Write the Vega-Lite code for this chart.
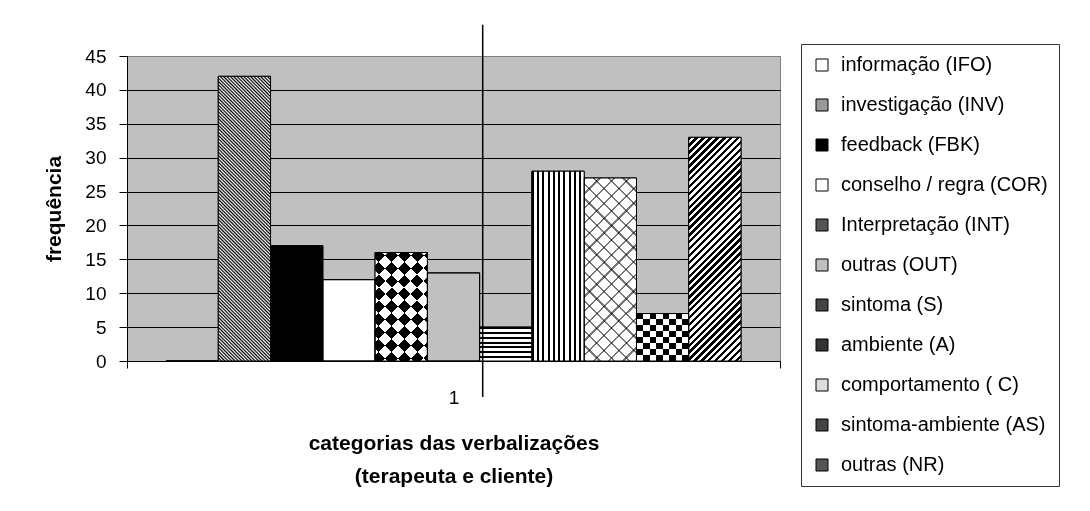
{
"$schema":"https://vega.github.io/schema/vega-lite/v6.json",
"width":653,"height":305,
"autosize":{"type":"none"},
"padding":{"left":127,"top":56,"right":310,"bottom":150},
"background":"#ffffff",
"config":{"font":"Liberation Sans","view":{"fill":"#c0c0c0","stroke":"#808080","strokeWidth":1},
"axis":{"labelColor":"#000","titleColor":"#000","domainColor":"#000","tickColor":"#000","labelFont":"Liberation Sans","titleFont":"Liberation Sans"}},
"data":{"values":[
{"grupo":"1","codigo":"IFO","categoria":"informação (IFO)","frequencia":0},
{"grupo":"1","codigo":"INV","categoria":"investigação (INV)","frequencia":42},
{"grupo":"1","codigo":"FBK","categoria":"feedback (FBK)","frequencia":17},
{"grupo":"1","codigo":"COR","categoria":"conselho / regra (COR)","frequencia":12},
{"grupo":"1","codigo":"INT","categoria":"Interpretação (INT)","frequencia":16},
{"grupo":"1","codigo":"OUT","categoria":"outras (OUT)","frequencia":13},
{"grupo":"1","codigo":"S","categoria":"sintoma (S)","frequencia":5},
{"grupo":"1","codigo":"A","categoria":"ambiente (A)","frequencia":28},
{"grupo":"1","codigo":"C","categoria":"comportamento ( C)","frequencia":27},
{"grupo":"1","codigo":"AS","categoria":"sintoma-ambiente (AS)","frequencia":7},
{"grupo":"1","codigo":"NR","categoria":"outras (NR)","frequencia":33}
]},
"encoding":{
"x":{"field":"grupo","type":"nominal","scale":{"paddingInner":0,"paddingOuter":0},
"axis":{"title":["categorias das verbalizações","(terapeuta e cliente)"],"titleFontSize":21,"titleFontWeight":"bold","titleLineHeight":33,"titlePadding":25,"labelAngle":0,"labelFontSize":19,"labelPadding":20,"tickSize":7,"tickBand":"extent","grid":false}},
"y":{"field":"frequencia","type":"quantitative","scale":{"domain":[0,45],"nice":false},
"axis":{"values":[0,5,10,15,20,25,30,35,40,45],"grid":true,"gridColor":{"condition":{"test":"datum.value === 45","value":"#808080"},"value":"#000"},"gridOpacity":1,"tickSize":8,"labelPadding":13,"labelFontSize":19,"title":"frequência","titleFontSize":21,"titleFontWeight":"bold","titlePadding":20}}
},
"layer":[
{"encoding":{"xOffset":{"field":"categoria","type":"nominal","scale":{"domain":["informação (IFO)","investigação (INV)","feedback (FBK)","conselho / regra (COR)","Interpretação (INT)","outras (OUT)","sintoma (S)","ambiente (A)","comportamento ( C)","sintoma-ambiente (AS)","outras (NR)"],"paddingInner":0,"paddingOuter":0.746}}},
"layer":[
{"mark":{"type":"bar","stroke":"#000","strokeWidth":1},
"encoding":{"color":{"field":"categoria","type":"nominal",
"scale":{"domain":["informação (IFO)","investigação (INV)","feedback (FBK)","conselho / regra (COR)","Interpretação (INT)","outras (OUT)","sintoma (S)","ambiente (A)","comportamento ( C)","sintoma-ambiente (AS)","outras (NR)"],
"range":["#ffffff","#999999","#000000","#ffffff","#555555","#c0c0c0","#444444","#333333","#dddddd","#444444","#555555"]},
"legend":{"title":null,"orient":"none","legendX":674,"legendY":-12,"direction":"vertical","symbolType":"square","symbolSize":144,"symbolStrokeColor":"#000","symbolStrokeWidth":1,"labelFontSize":20,"labelLimit":400,"labelColor":"#000","rowPadding":20,"padding":11,"strokeColor":"#333","fillColor":"#fff","labelOffset":9}}}},
{"transform":[{"filter":{"field":"codigo","equal":"INV"}}],
"mark":{"type":"bar","fill":{"gradient":"linear","x1":0,"y1":1,"x2":0.2103,"y2":-0.145,"stops":[
{"offset":0,"color":"#000"},{"offset":0.005,"color":"#fff"},{"offset":0.01,"color":"#000"},{"offset":0.015,"color":"#fff"},{"offset":0.02,"color":"#000"},{"offset":0.025,"color":"#fff"},{"offset":0.03,"color":"#000"},{"offset":0.035,"color":"#fff"},{"offset":0.04,"color":"#000"},{"offset":0.045,"color":"#fff"},
{"offset":0.05,"color":"#000"},{"offset":0.055,"color":"#fff"},{"offset":0.06,"color":"#000"},{"offset":0.065,"color":"#fff"},{"offset":0.07,"color":"#000"},{"offset":0.075,"color":"#fff"},{"offset":0.08,"color":"#000"},{"offset":0.085,"color":"#fff"},{"offset":0.09,"color":"#000"},{"offset":0.095,"color":"#fff"},
{"offset":0.1,"color":"#000"},{"offset":0.105,"color":"#fff"},{"offset":0.11,"color":"#000"},{"offset":0.115,"color":"#fff"},{"offset":0.12,"color":"#000"},{"offset":0.125,"color":"#fff"},{"offset":0.13,"color":"#000"},{"offset":0.135,"color":"#fff"},{"offset":0.14,"color":"#000"},{"offset":0.145,"color":"#fff"},
{"offset":0.15,"color":"#000"},{"offset":0.155,"color":"#fff"},{"offset":0.16,"color":"#000"},{"offset":0.165,"color":"#fff"},{"offset":0.17,"color":"#000"},{"offset":0.175,"color":"#fff"},{"offset":0.18,"color":"#000"},{"offset":0.185,"color":"#fff"},{"offset":0.19,"color":"#000"},{"offset":0.195,"color":"#fff"},
{"offset":0.2,"color":"#000"},{"offset":0.205,"color":"#fff"},{"offset":0.21,"color":"#000"},{"offset":0.215,"color":"#fff"},{"offset":0.22,"color":"#000"},{"offset":0.225,"color":"#fff"},{"offset":0.23,"color":"#000"},{"offset":0.235,"color":"#fff"},{"offset":0.24,"color":"#000"},{"offset":0.245,"color":"#fff"},
{"offset":0.25,"color":"#000"},{"offset":0.255,"color":"#fff"},{"offset":0.26,"color":"#000"},{"offset":0.265,"color":"#fff"},{"offset":0.27,"color":"#000"},{"offset":0.275,"color":"#fff"},{"offset":0.28,"color":"#000"},{"offset":0.285,"color":"#fff"},{"offset":0.29,"color":"#000"},{"offset":0.295,"color":"#fff"},
{"offset":0.3,"color":"#000"},{"offset":0.305,"color":"#fff"},{"offset":0.31,"color":"#000"},{"offset":0.315,"color":"#fff"},{"offset":0.32,"color":"#000"},{"offset":0.325,"color":"#fff"},{"offset":0.33,"color":"#000"},{"offset":0.335,"color":"#fff"},{"offset":0.34,"color":"#000"},{"offset":0.345,"color":"#fff"},
{"offset":0.35,"color":"#000"},{"offset":0.355,"color":"#fff"},{"offset":0.36,"color":"#000"},{"offset":0.365,"color":"#fff"},{"offset":0.37,"color":"#000"},{"offset":0.375,"color":"#fff"},{"offset":0.38,"color":"#000"},{"offset":0.385,"color":"#fff"},{"offset":0.39,"color":"#000"},{"offset":0.395,"color":"#fff"},
{"offset":0.4,"color":"#000"},{"offset":0.405,"color":"#fff"},{"offset":0.41,"color":"#000"},{"offset":0.415,"color":"#fff"},{"offset":0.42,"color":"#000"},{"offset":0.425,"color":"#fff"},{"offset":0.43,"color":"#000"},{"offset":0.435,"color":"#fff"},{"offset":0.44,"color":"#000"},{"offset":0.445,"color":"#fff"},
{"offset":0.45,"color":"#000"},{"offset":0.455,"color":"#fff"},{"offset":0.46,"color":"#000"},{"offset":0.465,"color":"#fff"},{"offset":0.47,"color":"#000"},{"offset":0.475,"color":"#fff"},{"offset":0.48,"color":"#000"},{"offset":0.485,"color":"#fff"},{"offset":0.49,"color":"#000"},{"offset":0.495,"color":"#fff"},
{"offset":0.5,"color":"#000"},{"offset":0.505,"color":"#fff"},{"offset":0.51,"color":"#000"},{"offset":0.515,"color":"#fff"},{"offset":0.52,"color":"#000"},{"offset":0.525,"color":"#fff"},{"offset":0.53,"color":"#000"},{"offset":0.535,"color":"#fff"},{"offset":0.54,"color":"#000"},{"offset":0.545,"color":"#fff"},
{"offset":0.55,"color":"#000"},{"offset":0.555,"color":"#fff"},{"offset":0.56,"color":"#000"},{"offset":0.565,"color":"#fff"},{"offset":0.57,"color":"#000"},{"offset":0.575,"color":"#fff"},{"offset":0.58,"color":"#000"},{"offset":0.585,"color":"#fff"},{"offset":0.59,"color":"#000"},{"offset":0.595,"color":"#fff"},
{"offset":0.6,"color":"#000"},{"offset":0.605,"color":"#fff"},{"offset":0.61,"color":"#000"},{"offset":0.615,"color":"#fff"},{"offset":0.62,"color":"#000"},{"offset":0.625,"color":"#fff"},{"offset":0.63,"color":"#000"},{"offset":0.635,"color":"#fff"},{"offset":0.64,"color":"#000"},{"offset":0.645,"color":"#fff"},
{"offset":0.65,"color":"#000"},{"offset":0.655,"color":"#fff"},{"offset":0.66,"color":"#000"},{"offset":0.665,"color":"#fff"},{"offset":0.67,"color":"#000"},{"offset":0.675,"color":"#fff"},{"offset":0.68,"color":"#000"},{"offset":0.685,"color":"#fff"},{"offset":0.69,"color":"#000"},{"offset":0.695,"color":"#fff"},
{"offset":0.7,"color":"#000"},{"offset":0.705,"color":"#fff"},{"offset":0.71,"color":"#000"},{"offset":0.715,"color":"#fff"},{"offset":0.72,"color":"#000"},{"offset":0.725,"color":"#fff"},{"offset":0.73,"color":"#000"},{"offset":0.735,"color":"#fff"},{"offset":0.74,"color":"#000"},{"offset":0.745,"color":"#fff"},
{"offset":0.75,"color":"#000"},{"offset":0.755,"color":"#fff"},{"offset":0.76,"color":"#000"},{"offset":0.765,"color":"#fff"},{"offset":0.77,"color":"#000"},{"offset":0.775,"color":"#fff"},{"offset":0.78,"color":"#000"},{"offset":0.785,"color":"#fff"},{"offset":0.79,"color":"#000"},{"offset":0.795,"color":"#fff"},
{"offset":0.8,"color":"#000"},{"offset":0.805,"color":"#fff"},{"offset":0.81,"color":"#000"},{"offset":0.815,"color":"#fff"},{"offset":0.82,"color":"#000"},{"offset":0.825,"color":"#fff"},{"offset":0.83,"color":"#000"},{"offset":0.835,"color":"#fff"},{"offset":0.84,"color":"#000"},{"offset":0.845,"color":"#fff"},
{"offset":0.85,"color":"#000"},{"offset":0.855,"color":"#fff"},{"offset":0.86,"color":"#000"},{"offset":0.865,"color":"#fff"},{"offset":0.87,"color":"#000"},{"offset":0.875,"color":"#fff"},{"offset":0.88,"color":"#000"},{"offset":0.885,"color":"#fff"},{"offset":0.89,"color":"#000"},{"offset":0.895,"color":"#fff"},
{"offset":0.9,"color":"#000"},{"offset":0.905,"color":"#fff"},{"offset":0.91,"color":"#000"},{"offset":0.915,"color":"#fff"},{"offset":0.92,"color":"#000"},{"offset":0.925,"color":"#fff"},{"offset":0.93,"color":"#000"},{"offset":0.935,"color":"#fff"},{"offset":0.94,"color":"#000"},{"offset":0.945,"color":"#fff"},
{"offset":0.95,"color":"#000"},{"offset":0.955,"color":"#fff"},{"offset":0.96,"color":"#000"},{"offset":0.965,"color":"#fff"},{"offset":0.97,"color":"#000"},{"offset":0.975,"color":"#fff"},{"offset":0.98,"color":"#000"},{"offset":0.985,"color":"#fff"},{"offset":0.99,"color":"#000"},{"offset":0.995,"color":"#fff"},
{"offset":1,"color":"#000"}]}}},
{"transform":[{"filter":{"field":"codigo","equal":"NR"}}],
"mark":{"type":"bar","fill":{"gradient":"linear","x1":0,"y1":0,"x2":0.2734,"y2":1.1698,"stops":[
{"offset":0,"color":"#000"},{"offset":0.0125,"color":"#000"},{"offset":0.0125,"color":"#fff"},{"offset":0.025,"color":"#fff"},
{"offset":0.025,"color":"#000"},{"offset":0.0375,"color":"#000"},{"offset":0.0375,"color":"#fff"},{"offset":0.05,"color":"#fff"},
{"offset":0.05,"color":"#000"},{"offset":0.0625,"color":"#000"},{"offset":0.0625,"color":"#fff"},{"offset":0.075,"color":"#fff"},
{"offset":0.075,"color":"#000"},{"offset":0.0875,"color":"#000"},{"offset":0.0875,"color":"#fff"},{"offset":0.1,"color":"#fff"},
{"offset":0.1,"color":"#000"},{"offset":0.1125,"color":"#000"},{"offset":0.1125,"color":"#fff"},{"offset":0.125,"color":"#fff"},
{"offset":0.125,"color":"#000"},{"offset":0.1375,"color":"#000"},{"offset":0.1375,"color":"#fff"},{"offset":0.15,"color":"#fff"},
{"offset":0.15,"color":"#000"},{"offset":0.1625,"color":"#000"},{"offset":0.1625,"color":"#fff"},{"offset":0.175,"color":"#fff"},
{"offset":0.175,"color":"#000"},{"offset":0.1875,"color":"#000"},{"offset":0.1875,"color":"#fff"},{"offset":0.2,"color":"#fff"},
{"offset":0.2,"color":"#000"},{"offset":0.2125,"color":"#000"},{"offset":0.2125,"color":"#fff"},{"offset":0.225,"color":"#fff"},
{"offset":0.225,"color":"#000"},{"offset":0.2375,"color":"#000"},{"offset":0.2375,"color":"#fff"},{"offset":0.25,"color":"#fff"},
{"offset":0.25,"color":"#000"},{"offset":0.2625,"color":"#000"},{"offset":0.2625,"color":"#fff"},{"offset":0.275,"color":"#fff"},
{"offset":0.275,"color":"#000"},{"offset":0.2875,"color":"#000"},{"offset":0.2875,"color":"#fff"},{"offset":0.3,"color":"#fff"},
{"offset":0.3,"color":"#000"},{"offset":0.3125,"color":"#000"},{"offset":0.3125,"color":"#fff"},{"offset":0.325,"color":"#fff"},
{"offset":0.325,"color":"#000"},{"offset":0.3375,"color":"#000"},{"offset":0.3375,"color":"#fff"},{"offset":0.35,"color":"#fff"},
{"offset":0.35,"color":"#000"},{"offset":0.3625,"color":"#000"},{"offset":0.3625,"color":"#fff"},{"offset":0.375,"color":"#fff"},
{"offset":0.375,"color":"#000"},{"offset":0.3875,"color":"#000"},{"offset":0.3875,"color":"#fff"},{"offset":0.4,"color":"#fff"},
{"offset":0.4,"color":"#000"},{"offset":0.4125,"color":"#000"},{"offset":0.4125,"color":"#fff"},{"offset":0.425,"color":"#fff"},
{"offset":0.425,"color":"#000"},{"offset":0.4375,"color":"#000"},{"offset":0.4375,"color":"#fff"},{"offset":0.45,"color":"#fff"},
{"offset":0.45,"color":"#000"},{"offset":0.4625,"color":"#000"},{"offset":0.4625,"color":"#fff"},{"offset":0.475,"color":"#fff"},
{"offset":0.475,"color":"#000"},{"offset":0.4875,"color":"#000"},{"offset":0.4875,"color":"#fff"},{"offset":0.5,"color":"#fff"},
{"offset":0.5,"color":"#000"},{"offset":0.5125,"color":"#000"},{"offset":0.5125,"color":"#fff"},{"offset":0.525,"color":"#fff"},
{"offset":0.525,"color":"#000"},{"offset":0.5375,"color":"#000"},{"offset":0.5375,"color":"#fff"},{"offset":0.55,"color":"#fff"},
{"offset":0.55,"color":"#000"},{"offset":0.5625,"color":"#000"},{"offset":0.5625,"color":"#fff"},{"offset":0.575,"color":"#fff"},
{"offset":0.575,"color":"#000"},{"offset":0.5875,"color":"#000"},{"offset":0.5875,"color":"#fff"},{"offset":0.6,"color":"#fff"},
{"offset":0.6,"color":"#000"},{"offset":0.6125,"color":"#000"},{"offset":0.6125,"color":"#fff"},{"offset":0.625,"color":"#fff"},
{"offset":0.625,"color":"#000"},{"offset":0.6375,"color":"#000"},{"offset":0.6375,"color":"#fff"},{"offset":0.65,"color":"#fff"},
{"offset":0.65,"color":"#000"},{"offset":0.6625,"color":"#000"},{"offset":0.6625,"color":"#fff"},{"offset":0.675,"color":"#fff"},
{"offset":0.675,"color":"#000"},{"offset":0.6875,"color":"#000"},{"offset":0.6875,"color":"#fff"},{"offset":0.7,"color":"#fff"},
{"offset":0.7,"color":"#000"},{"offset":0.7125,"color":"#000"},{"offset":0.7125,"color":"#fff"},{"offset":0.725,"color":"#fff"},
{"offset":0.725,"color":"#000"},{"offset":0.7375,"color":"#000"},{"offset":0.7375,"color":"#fff"},{"offset":0.75,"color":"#fff"},
{"offset":0.75,"color":"#000"},{"offset":0.7625,"color":"#000"},{"offset":0.7625,"color":"#fff"},{"offset":0.775,"color":"#fff"},
{"offset":0.775,"color":"#000"},{"offset":0.7875,"color":"#000"},{"offset":0.7875,"color":"#fff"},{"offset":0.8,"color":"#fff"},
{"offset":0.8,"color":"#000"},{"offset":0.8125,"color":"#000"},{"offset":0.8125,"color":"#fff"},{"offset":0.825,"color":"#fff"},
{"offset":0.825,"color":"#000"},{"offset":0.8375,"color":"#000"},{"offset":0.8375,"color":"#fff"},{"offset":0.85,"color":"#fff"},
{"offset":0.85,"color":"#000"},{"offset":0.8625,"color":"#000"},{"offset":0.8625,"color":"#fff"},{"offset":0.875,"color":"#fff"},
{"offset":0.875,"color":"#000"},{"offset":0.8875,"color":"#000"},{"offset":0.8875,"color":"#fff"},{"offset":0.9,"color":"#fff"},
{"offset":0.9,"color":"#000"},{"offset":0.9125,"color":"#000"},{"offset":0.9125,"color":"#fff"},{"offset":0.925,"color":"#fff"},
{"offset":0.925,"color":"#000"},{"offset":0.9375,"color":"#000"},{"offset":0.9375,"color":"#fff"},{"offset":0.95,"color":"#fff"},
{"offset":0.95,"color":"#000"},{"offset":0.9625,"color":"#000"},{"offset":0.9625,"color":"#fff"},{"offset":0.975,"color":"#fff"},
{"offset":0.975,"color":"#000"},{"offset":0.9875,"color":"#000"},{"offset":0.9875,"color":"#fff"},{"offset":1,"color":"#fff"}]}}},
{"transform":[{"filter":{"field":"codigo","equal":"INT"}}],
"mark":{"type":"bar","fill":{"gradient":"linear","x1":0,"y1":0,"x2":0.5797,"y2":1.2026,"stops":[
{"offset":0,"color":"#000"},{"offset":0.08,"color":"#000"},{"offset":0.08,"color":"#fff"},{"offset":0.16,"color":"#fff"},
{"offset":0.16,"color":"#000"},{"offset":0.24,"color":"#000"},{"offset":0.24,"color":"#fff"},{"offset":0.32,"color":"#fff"},
{"offset":0.32,"color":"#000"},{"offset":0.4,"color":"#000"},{"offset":0.4,"color":"#fff"},{"offset":0.48,"color":"#fff"},
{"offset":0.48,"color":"#000"},{"offset":0.56,"color":"#000"},{"offset":0.56,"color":"#fff"},{"offset":0.64,"color":"#fff"},
{"offset":0.64,"color":"#000"},{"offset":0.72,"color":"#000"},{"offset":0.72,"color":"#fff"},{"offset":0.8,"color":"#fff"},
{"offset":0.8,"color":"#000"},{"offset":0.88,"color":"#000"},{"offset":0.88,"color":"#fff"},{"offset":0.96,"color":"#fff"},
{"offset":0.96,"color":"#000"},{"offset":1,"color":"#000"}]}}},
{"transform":[{"filter":{"field":"codigo","equal":"INT"}}],
"mark":{"type":"bar","blend":"difference","fill":{"gradient":"linear","x1":0,"y1":1,"x2":0.5797,"y2":-0.2026,"stops":[
{"offset":0,"color":"#000"},{"offset":0.08,"color":"#000"},{"offset":0.08,"color":"#fff"},{"offset":0.16,"color":"#fff"},
{"offset":0.16,"color":"#000"},{"offset":0.24,"color":"#000"},{"offset":0.24,"color":"#fff"},{"offset":0.32,"color":"#fff"},
{"offset":0.32,"color":"#000"},{"offset":0.4,"color":"#000"},{"offset":0.4,"color":"#fff"},{"offset":0.48,"color":"#fff"},
{"offset":0.48,"color":"#000"},{"offset":0.56,"color":"#000"},{"offset":0.56,"color":"#fff"},{"offset":0.64,"color":"#fff"},
{"offset":0.64,"color":"#000"},{"offset":0.72,"color":"#000"},{"offset":0.72,"color":"#fff"},{"offset":0.8,"color":"#fff"},
{"offset":0.8,"color":"#000"},{"offset":0.88,"color":"#000"},{"offset":0.88,"color":"#fff"},{"offset":0.96,"color":"#fff"},
{"offset":0.96,"color":"#000"},{"offset":1,"color":"#000"}]}}},
{"transform":[{"filter":{"field":"codigo","equal":"AS"}}],
"mark":{"type":"bar","fill":{"gradient":"linear","x1":0,"y1":0,"x2":0,"y2":1,"stops":[
{"offset":0,"color":"#000"},{"offset":0.125,"color":"#000"},{"offset":0.125,"color":"#fff"},{"offset":0.25,"color":"#fff"},
{"offset":0.25,"color":"#000"},{"offset":0.375,"color":"#000"},{"offset":0.375,"color":"#fff"},{"offset":0.5,"color":"#fff"},
{"offset":0.5,"color":"#000"},{"offset":0.625,"color":"#000"},{"offset":0.625,"color":"#fff"},{"offset":0.75,"color":"#fff"},
{"offset":0.75,"color":"#000"},{"offset":0.875,"color":"#000"},{"offset":0.875,"color":"#fff"},{"offset":1,"color":"#fff"}]}}},
{"transform":[{"filter":{"field":"codigo","equal":"AS"}}],
"mark":{"type":"bar","blend":"difference","fill":{"gradient":"linear","x1":0,"y1":0,"x2":1,"y2":0,"stops":[
{"offset":0,"color":"#000"},{"offset":0.125,"color":"#000"},{"offset":0.125,"color":"#fff"},{"offset":0.25,"color":"#fff"},
{"offset":0.25,"color":"#000"},{"offset":0.375,"color":"#000"},{"offset":0.375,"color":"#fff"},{"offset":0.5,"color":"#fff"},
{"offset":0.5,"color":"#000"},{"offset":0.625,"color":"#000"},{"offset":0.625,"color":"#fff"},{"offset":0.75,"color":"#fff"},
{"offset":0.75,"color":"#000"},{"offset":0.875,"color":"#000"},{"offset":0.875,"color":"#fff"},{"offset":1,"color":"#fff"}]}}},
{"transform":[{"filter":{"field":"codigo","equal":"S"}}],
"mark":{"type":"bar","fill":{"gradient":"linear","x1":0,"y1":0,"x2":0,"y2":1,"stops":[
{"offset":0,"color":"#000"},{"offset":0.0571,"color":"#000"},{"offset":0.0571,"color":"#fff"},{"offset":0.1429,"color":"#fff"},
{"offset":0.1429,"color":"#000"},{"offset":0.2,"color":"#000"},{"offset":0.2,"color":"#fff"},{"offset":0.2857,"color":"#fff"},
{"offset":0.2857,"color":"#000"},{"offset":0.3429,"color":"#000"},{"offset":0.3429,"color":"#fff"},{"offset":0.4286,"color":"#fff"},
{"offset":0.4286,"color":"#000"},{"offset":0.4857,"color":"#000"},{"offset":0.4857,"color":"#fff"},{"offset":0.5714,"color":"#fff"},
{"offset":0.5714,"color":"#000"},{"offset":0.6286,"color":"#000"},{"offset":0.6286,"color":"#fff"},{"offset":0.7143,"color":"#fff"},
{"offset":0.7143,"color":"#000"},{"offset":0.7714,"color":"#000"},{"offset":0.7714,"color":"#fff"},{"offset":0.8571,"color":"#fff"},
{"offset":0.8571,"color":"#000"},{"offset":0.9143,"color":"#000"},{"offset":0.9143,"color":"#fff"},{"offset":1,"color":"#fff"}]}}},
{"transform":[{"filter":{"field":"codigo","equal":"A"}}],
"mark":{"type":"bar","fill":{"gradient":"linear","x1":0,"y1":0,"x2":1,"y2":0,"stops":[
{"offset":0,"color":"#000"},{"offset":0.04,"color":"#000"},{"offset":0.04,"color":"#fff"},{"offset":0.1,"color":"#fff"},
{"offset":0.1,"color":"#000"},{"offset":0.14,"color":"#000"},{"offset":0.14,"color":"#fff"},{"offset":0.2,"color":"#fff"},
{"offset":0.2,"color":"#000"},{"offset":0.24,"color":"#000"},{"offset":0.24,"color":"#fff"},{"offset":0.3,"color":"#fff"},
{"offset":0.3,"color":"#000"},{"offset":0.34,"color":"#000"},{"offset":0.34,"color":"#fff"},{"offset":0.4,"color":"#fff"},
{"offset":0.4,"color":"#000"},{"offset":0.44,"color":"#000"},{"offset":0.44,"color":"#fff"},{"offset":0.5,"color":"#fff"},
{"offset":0.5,"color":"#000"},{"offset":0.54,"color":"#000"},{"offset":0.54,"color":"#fff"},{"offset":0.6,"color":"#fff"},
{"offset":0.6,"color":"#000"},{"offset":0.64,"color":"#000"},{"offset":0.64,"color":"#fff"},{"offset":0.7,"color":"#fff"},
{"offset":0.7,"color":"#000"},{"offset":0.74,"color":"#000"},{"offset":0.74,"color":"#fff"},{"offset":0.8,"color":"#fff"},
{"offset":0.8,"color":"#000"},{"offset":0.84,"color":"#000"},{"offset":0.84,"color":"#fff"},{"offset":0.9,"color":"#fff"},
{"offset":0.9,"color":"#000"},{"offset":0.94,"color":"#000"},{"offset":0.94,"color":"#fff"},{"offset":1,"color":"#fff"}]}}},
{"transform":[{"filter":{"field":"codigo","equal":"C"}}],
"mark":{"type":"bar","fill":{"gradient":"linear","x1":0,"y1":0,"x2":0.3395,"y2":1.1887,"stops":[
{"offset":0,"color":"#777"},{"offset":0.01,"color":"#777"},{"offset":0.01,"color":"#fff"},{"offset":0.0625,"color":"#fff"},
{"offset":0.0625,"color":"#777"},{"offset":0.0725,"color":"#777"},{"offset":0.0725,"color":"#fff"},{"offset":0.125,"color":"#fff"},
{"offset":0.125,"color":"#777"},{"offset":0.135,"color":"#777"},{"offset":0.135,"color":"#fff"},{"offset":0.1875,"color":"#fff"},
{"offset":0.1875,"color":"#777"},{"offset":0.1975,"color":"#777"},{"offset":0.1975,"color":"#fff"},{"offset":0.25,"color":"#fff"},
{"offset":0.25,"color":"#777"},{"offset":0.26,"color":"#777"},{"offset":0.26,"color":"#fff"},{"offset":0.3125,"color":"#fff"},
{"offset":0.3125,"color":"#777"},{"offset":0.3225,"color":"#777"},{"offset":0.3225,"color":"#fff"},{"offset":0.375,"color":"#fff"},
{"offset":0.375,"color":"#777"},{"offset":0.385,"color":"#777"},{"offset":0.385,"color":"#fff"},{"offset":0.4375,"color":"#fff"},
{"offset":0.4375,"color":"#777"},{"offset":0.4475,"color":"#777"},{"offset":0.4475,"color":"#fff"},{"offset":0.5,"color":"#fff"},
{"offset":0.5,"color":"#777"},{"offset":0.51,"color":"#777"},{"offset":0.51,"color":"#fff"},{"offset":0.5625,"color":"#fff"},
{"offset":0.5625,"color":"#777"},{"offset":0.5725,"color":"#777"},{"offset":0.5725,"color":"#fff"},{"offset":0.625,"color":"#fff"},
{"offset":0.625,"color":"#777"},{"offset":0.635,"color":"#777"},{"offset":0.635,"color":"#fff"},{"offset":0.6875,"color":"#fff"},
{"offset":0.6875,"color":"#777"},{"offset":0.6975,"color":"#777"},{"offset":0.6975,"color":"#fff"},{"offset":0.75,"color":"#fff"},
{"offset":0.75,"color":"#777"},{"offset":0.76,"color":"#777"},{"offset":0.76,"color":"#fff"},{"offset":0.8125,"color":"#fff"},
{"offset":0.8125,"color":"#777"},{"offset":0.8225,"color":"#777"},{"offset":0.8225,"color":"#fff"},{"offset":0.875,"color":"#fff"},
{"offset":0.875,"color":"#777"},{"offset":0.885,"color":"#777"},{"offset":0.885,"color":"#fff"},{"offset":0.9375,"color":"#fff"},
{"offset":0.9375,"color":"#777"},{"offset":0.9475,"color":"#777"},{"offset":0.9475,"color":"#fff"},{"offset":1,"color":"#fff"}]}}},
{"transform":[{"filter":{"field":"codigo","equal":"C"}}],
"mark":{"type":"bar","blend":"multiply","fill":{"gradient":"linear","x1":0,"y1":1,"x2":0.3395,"y2":-0.1887,"stops":[
{"offset":0,"color":"#777"},{"offset":0.01,"color":"#777"},{"offset":0.01,"color":"#fff"},{"offset":0.0625,"color":"#fff"},
{"offset":0.0625,"color":"#777"},{"offset":0.0725,"color":"#777"},{"offset":0.0725,"color":"#fff"},{"offset":0.125,"color":"#fff"},
{"offset":0.125,"color":"#777"},{"offset":0.135,"color":"#777"},{"offset":0.135,"color":"#fff"},{"offset":0.1875,"color":"#fff"},
{"offset":0.1875,"color":"#777"},{"offset":0.1975,"color":"#777"},{"offset":0.1975,"color":"#fff"},{"offset":0.25,"color":"#fff"},
{"offset":0.25,"color":"#777"},{"offset":0.26,"color":"#777"},{"offset":0.26,"color":"#fff"},{"offset":0.3125,"color":"#fff"},
{"offset":0.3125,"color":"#777"},{"offset":0.3225,"color":"#777"},{"offset":0.3225,"color":"#fff"},{"offset":0.375,"color":"#fff"},
{"offset":0.375,"color":"#777"},{"offset":0.385,"color":"#777"},{"offset":0.385,"color":"#fff"},{"offset":0.4375,"color":"#fff"},
{"offset":0.4375,"color":"#777"},{"offset":0.4475,"color":"#777"},{"offset":0.4475,"color":"#fff"},{"offset":0.5,"color":"#fff"},
{"offset":0.5,"color":"#777"},{"offset":0.51,"color":"#777"},{"offset":0.51,"color":"#fff"},{"offset":0.5625,"color":"#fff"},
{"offset":0.5625,"color":"#777"},{"offset":0.5725,"color":"#777"},{"offset":0.5725,"color":"#fff"},{"offset":0.625,"color":"#fff"},
{"offset":0.625,"color":"#777"},{"offset":0.635,"color":"#777"},{"offset":0.635,"color":"#fff"},{"offset":0.6875,"color":"#fff"},
{"offset":0.6875,"color":"#777"},{"offset":0.6975,"color":"#777"},{"offset":0.6975,"color":"#fff"},{"offset":0.75,"color":"#fff"},
{"offset":0.75,"color":"#777"},{"offset":0.76,"color":"#777"},{"offset":0.76,"color":"#fff"},{"offset":0.8125,"color":"#fff"},
{"offset":0.8125,"color":"#777"},{"offset":0.8225,"color":"#777"},{"offset":0.8225,"color":"#fff"},{"offset":0.875,"color":"#fff"},
{"offset":0.875,"color":"#777"},{"offset":0.885,"color":"#777"},{"offset":0.885,"color":"#fff"},{"offset":0.9375,"color":"#fff"},
{"offset":0.9375,"color":"#777"},{"offset":0.9475,"color":"#777"},{"offset":0.9475,"color":"#fff"},{"offset":1,"color":"#fff"}]}}},
{"mark":{"type":"bar","fill":"#fff","fillOpacity":0,"stroke":"#000","strokeWidth":1}}
]},
{"transform":[{"filter":{"field":"codigo","equal":"S"}}],
"mark":{"type":"rule","color":"#000","strokeWidth":1.5,"xOffset":29.2},
"encoding":{"y":{"datum":49.6},"y2":{"datum":-5.3}}}
]
}
